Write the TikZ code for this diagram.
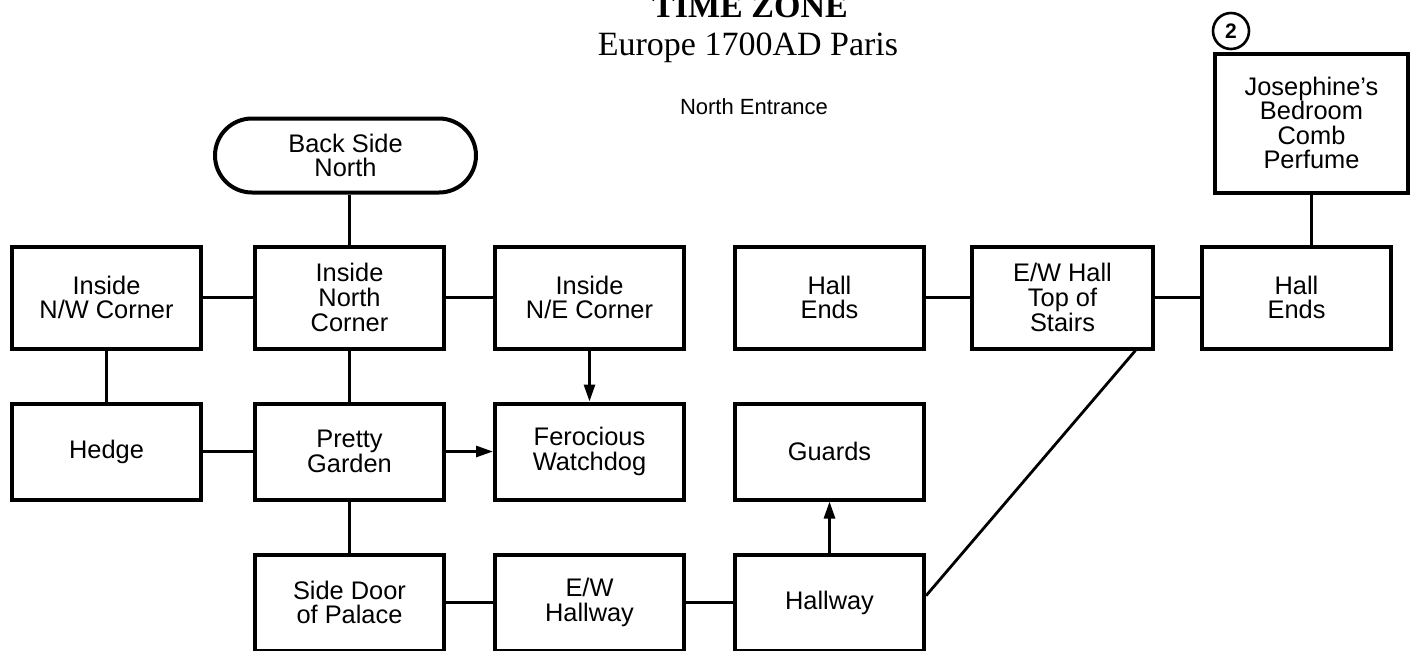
\documentclass[tikz,border=0pt]{standalone}
\usepackage{fontspec}
\setmainfont{Liberation Serif}
\setsansfont{Liberation Sans}
\usepackage{tikz}
\usetikzlibrary{arrows.meta,positioning}

\begin{document}
\begin{tikzpicture}[
  x=0.5pt, y=-0.5pt,
  node distance=25.5pt and 23.5pt,
  room/.style={rectangle, draw, line width=2pt, minimum width=94.5pt,
               minimum height=48pt, align=center, inner sep=2pt,
               font=\sffamily\fontsize{12.7}{12.3}\selectfont},
  toproom/.style={room, minimum height=51pt},
  link/.style={line width=1.4pt},
  arr/.style={-{Triangle[length=8.5pt,width=5.5pt]}, line width=1.4pt}
]
  \useasboundingbox (0,0) rectangle (1420,650);
  \clip (0,0) rectangle (1420,650);

  \node[font=\bfseries\fontsize{17}{17}\selectfont, anchor=base] (zone) at (750,17) {TIME ZONE};
  \node[font=\fontsize{17}{17}\selectfont, anchor=base] (era) at (748,55) {Europe 1700AD Paris};
  \node[font=\sffamily\fontsize{11}{11}\selectfont, anchor=base] (entr) at (754,114) {North Entrance};

  \node[toproom] (nwc) at (106.5,297.5) {Inside\\N/W Corner};
  \node[toproom, right=25pt of nwc] (nc) {Inside\\North\\Corner};
  \node[toproom, right=of nc] (nec) {Inside\\N/E Corner};
  \node[toproom, right=of nec] (hallW) {Hall\\Ends};
  \node[toproom, minimum width=90.5pt, right=22pt of hallW] (ewhall) {E/W Hall\\Top of\\Stairs};
  \node[toproom, right=22.5pt of ewhall] (hallE) {Hall\\Ends};
  \node[room, minimum width=96.5pt, minimum height=69.5pt, above=25pt of hallE,
        xshift=7.5pt] (jos) {Josephine’s\\Bedroom\\Comb\\Perfume};
  \node[circle, draw, line width=1.3pt, minimum size=18pt, inner sep=0pt,
        font=\sffamily\bfseries\fontsize{10.5}{10.5}\selectfont] (mark2) at (1231,31) {2};
  \node[room, minimum width=130.5pt, minimum height=37pt, rounded corners=18.5pt,
        above=25pt of nc, xshift=-2pt] (bsn) {Back Side\\North};

  \node[room, below=of nwc] (hedge) {Hedge};
  \node[room, below=of nc] (pretty) {Pretty\\Garden};
  \node[room, below=of nec] (dog) {Ferocious\\Watchdog};
  \node[room, below=of hallW] (guards) {Guards};
  \node[room, below=of pretty] (side) {Side Door\\of Palace};
  \node[room, below=of dog] (ewway) {E/W\\Hallway};
  \node[room, below=of guards] (hallway) {Hallway};

  \draw[link] (bsn.south -| nc) -- (nc);
  \draw[link] (nwc) -- (nc); \draw[link] (nc) -- (nec);
  \draw[link] (hallW) -- (ewhall); \draw[link] (ewhall) -- (hallE);
  \draw[link] (jos.south) -- (jos.south |- hallE.north);
  \draw[link] (nwc) -- (hedge); \draw[link] (nc) -- (pretty);
  \draw[arr] (nec) -- (dog);
  \draw[link] (hedge) -- (pretty); \draw[arr] (pretty) -- (dog);
  \draw[link] (pretty) -- (side);
  \draw[link] (side) -- (ewway); \draw[link] (ewway) -- (hallway);
  \draw[arr] (hallway) -- (guards);
  \draw[link] (hallway.4) -- (ewhall.-36);
\end{tikzpicture}
\end{document}
